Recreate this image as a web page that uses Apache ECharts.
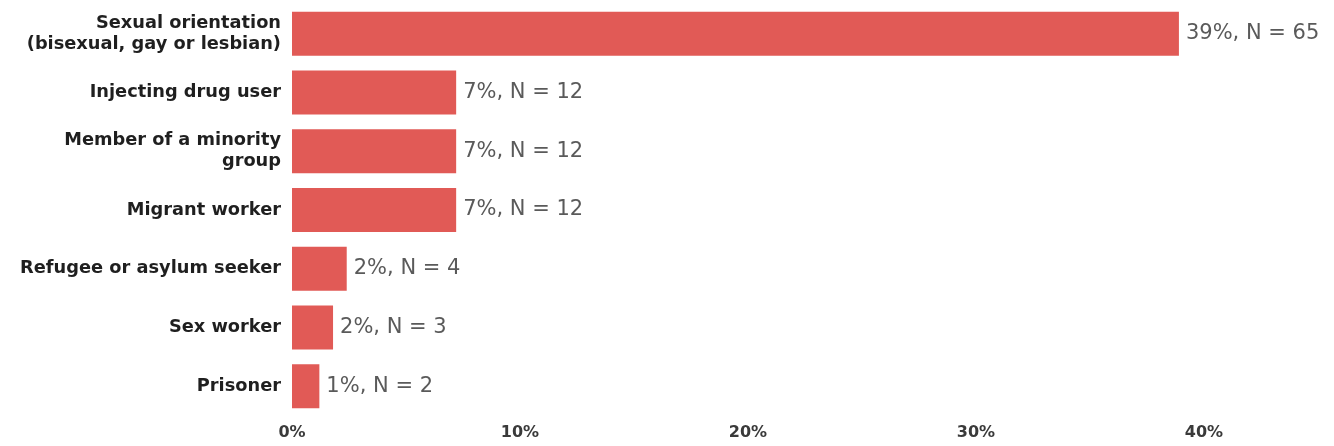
<!DOCTYPE html>
<html>
<head>
<meta charset="utf-8">
<script src="https://cdn.jsdelivr.net/npm/echarts@6/dist/echarts.min.js"></script>
<style>
  html, body { margin: 0; padding: 0; background: #fff; }
  #chart { width: 1334px; height: 446px; }
</style>
</head>
<body>
<div id="chart"></div>
<script>
// Groups reported, top to bottom
const categories = [
  'Sexual orientation\n(bisexual, gay or lesbian)',
  'Injecting drug user',
  'Member of a minority\ngroup',
  'Migrant worker',
  'Refugee or asylum seeker',
  'Sex worker',
  'Prisoner'
];
// Share of respondents (%) and respondent counts
const percentValues = [38.9, 7.2, 7.2, 7.2, 2.4, 1.8, 1.2];
const counts = [65, 12, 12, 12, 4, 3, 2];
// Value axis ticks
const tickValues = [0, 10, 20, 30, 40];

const chart = echarts.init(document.getElementById('chart'), null, { renderer: 'canvas' });

chart.setOption({
  animation: false,
  backgroundColor: '#ffffff',
  grid: { left: 292, right: 130, top: 4.5, bottom: 30.5, containLabel: false },
  xAxis: {
    type: 'value',
    min: tickValues[0],
    max: tickValues[tickValues.length - 1],
    interval: 10,
    axisLine: { show: false },
    axisTick: { show: false },
    splitLine: { show: false },
    axisLabel: {
      formatter: v => v + '%',
      color: '#3a3a3a',
      fontFamily: 'DejaVu Sans',
      fontWeight: 'bold',
      fontSize: 16,
      margin: 9
    }
  },
  yAxis: {
    type: 'category',
    inverse: true,
    data: categories,
    axisLine: { show: false },
    axisTick: { show: false },
    axisLabel: {
      color: '#1f1f1f',
      fontFamily: 'DejaVu Sans',
      fontWeight: 'bold',
      fontSize: 17.8,
      lineHeight: 21,
      margin: 11,
      align: 'right'
    }
  },
  series: [{
    type: 'bar',
    data: percentValues,
    barWidth: 44,
    itemStyle: { color: '#E15A56' },
    label: {
      show: true,
      position: 'right',
      distance: 7,
      color: '#5a5a5a',
      fontFamily: 'DejaVu Sans',
      fontSize: 21,
      formatter: p => Math.round(p.value) + '%, N = ' + counts[p.dataIndex]
    }
  }]
});
</script>
</body>
</html>
